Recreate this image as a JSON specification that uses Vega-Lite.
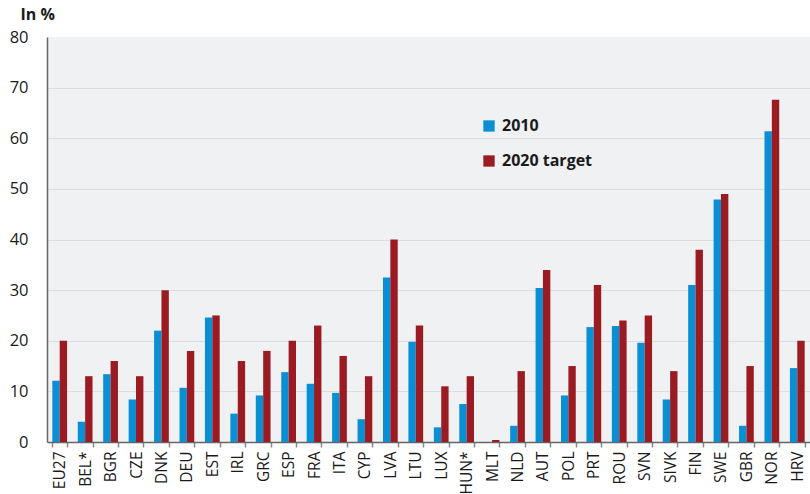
{
  "$schema": "https://vega.github.io/schema/vega-lite/v6.json",
  "autosize": "none",
  "width": 763,
  "height": 405,
  "padding": {"left": 47, "top": 37, "right": 0, "bottom": 52},
  "background": "white",
  "config": {
    "font": "Open Sans",
    "view": {"fill": "#f0f1f3", "stroke": null}
  },
  "data": {
    "values": [
      {"country": "EU27", "series": "2010", "value": 12.1}, {"country": "EU27", "series": "2020 target", "value": 20},
      {"country": "BEL*", "series": "2010", "value": 4.0}, {"country": "BEL*", "series": "2020 target", "value": 13},
      {"country": "BGR", "series": "2010", "value": 13.4}, {"country": "BGR", "series": "2020 target", "value": 16},
      {"country": "CZE", "series": "2010", "value": 8.4}, {"country": "CZE", "series": "2020 target", "value": 13},
      {"country": "DNK", "series": "2010", "value": 22.0}, {"country": "DNK", "series": "2020 target", "value": 30},
      {"country": "DEU", "series": "2010", "value": 10.7}, {"country": "DEU", "series": "2020 target", "value": 18},
      {"country": "EST", "series": "2010", "value": 24.6}, {"country": "EST", "series": "2020 target", "value": 25},
      {"country": "IRL", "series": "2010", "value": 5.6}, {"country": "IRL", "series": "2020 target", "value": 16},
      {"country": "GRC", "series": "2010", "value": 9.2}, {"country": "GRC", "series": "2020 target", "value": 18},
      {"country": "ESP", "series": "2010", "value": 13.8}, {"country": "ESP", "series": "2020 target", "value": 20},
      {"country": "FRA", "series": "2010", "value": 11.5}, {"country": "FRA", "series": "2020 target", "value": 23},
      {"country": "ITA", "series": "2010", "value": 9.7}, {"country": "ITA", "series": "2020 target", "value": 17},
      {"country": "CYP", "series": "2010", "value": 4.5}, {"country": "CYP", "series": "2020 target", "value": 13},
      {"country": "LVA", "series": "2010", "value": 32.5}, {"country": "LVA", "series": "2020 target", "value": 40},
      {"country": "LTU", "series": "2010", "value": 19.8}, {"country": "LTU", "series": "2020 target", "value": 23},
      {"country": "LUX", "series": "2010", "value": 2.9}, {"country": "LUX", "series": "2020 target", "value": 11},
      {"country": "HUN*", "series": "2010", "value": 7.5}, {"country": "HUN*", "series": "2020 target", "value": 13},
      {"country": "MLT", "series": "2010", "value": 0}, {"country": "MLT", "series": "2020 target", "value": 0.4},
      {"country": "NLD", "series": "2010", "value": 3.2}, {"country": "NLD", "series": "2020 target", "value": 14},
      {"country": "AUT", "series": "2010", "value": 30.4}, {"country": "AUT", "series": "2020 target", "value": 34},
      {"country": "POL", "series": "2010", "value": 9.2}, {"country": "POL", "series": "2020 target", "value": 15},
      {"country": "PRT", "series": "2010", "value": 22.7}, {"country": "PRT", "series": "2020 target", "value": 31},
      {"country": "ROU", "series": "2010", "value": 22.9}, {"country": "ROU", "series": "2020 target", "value": 24},
      {"country": "SVN", "series": "2010", "value": 19.6}, {"country": "SVN", "series": "2020 target", "value": 25},
      {"country": "SIVK", "series": "2010", "value": 8.4}, {"country": "SIVK", "series": "2020 target", "value": 14},
      {"country": "FIN", "series": "2010", "value": 31.0}, {"country": "FIN", "series": "2020 target", "value": 38},
      {"country": "SWE", "series": "2010", "value": 47.9}, {"country": "SWE", "series": "2020 target", "value": 49},
      {"country": "GBR", "series": "2010", "value": 3.2}, {"country": "GBR", "series": "2020 target", "value": 15},
      {"country": "NOR", "series": "2010", "value": 61.4}, {"country": "NOR", "series": "2020 target", "value": 67.6},
      {"country": "HRV", "series": "2010", "value": 14.6}, {"country": "HRV", "series": "2020 target", "value": 20}
    ]
  },
  "mark": {"type": "bar"},
  "encoding": {
    "x": {
      "field": "country",
      "type": "nominal",
      "sort": ["EU27","BEL*","BGR","CZE","DNK","DEU","EST","IRL","GRC","ESP","FRA","ITA","CYP","LVA","LTU","LUX","HUN*","MLT","NLD","AUT","POL","PRT","ROU","SVN","SIVK","FIN","SWE","GBR","NOR","HRV"],
      "scale": {"paddingInner": 0.42, "paddingOuter": 0.21},
      "axis": {
        "title": null,
        "labelAngle": -90,
        "labelAlign": "right",
        "labelBaseline": "middle",
        "labelFontSize": 15.5,
        "labelColor": "#1a1a1a",
        "labelPadding": 4,
        "tickBand": "extent",
        "tickSize": 5,
        "tickColor": "#888888",
        "tickWidth": 1.5,
        "domainColor": "#666666",
        "domainWidth": 1.5,
        "grid": false
      }
    },
    "xOffset": {"field": "series", "type": "nominal", "scale": {"paddingInner": 0, "paddingOuter": 0}},
    "y": {
      "field": "value",
      "type": "quantitative",
      "scale": {"domain": [0, 80], "nice": false},
      "axis": {
        "values": [0, 10, 20, 30, 40, 50, 60, 70, 80],
        "title": "In %",
        "titleAngle": 0,
        "titleAlign": "left",
        "titleBaseline": "middle",
        "titleX": -27,
        "titleY": -23,
        "titleFontSize": 16,
        "titleFontWeight": "bold",
        "titleColor": "#1a1a1a",
        "labelFontSize": 16.5,
        "labelColor": "#1a1a1a",
        "labelPadding": 19,
        "ticks": false,
        "domainColor": "#666666",
        "domainWidth": 1.5,
        "grid": true,
        "gridColor": {"condition": {"test": "datum.value == 80 || datum.value == 0", "value": "transparent"}, "value": "#dcdde0"},
        "gridWidth": 1.2
      }
    },
    "color": {
      "field": "series",
      "type": "nominal",
      "scale": {"domain": ["2010", "2020 target"], "range": ["#0a8fd5", "#9a1b22"]},
      "legend": {
        "title": null,
        "orient": "none",
        "legendX": 434,
        "legendY": 81,
        "symbolType": "square",
        "symbolSize": 128,
        "symbolStrokeWidth": 0,
        "labelFontSize": 16,
        "labelFontWeight": "bold",
        "labelColor": "#1a1a1a",
        "labelOffset": 5,
        "rowPadding": 19
      }
    }
  }
}
